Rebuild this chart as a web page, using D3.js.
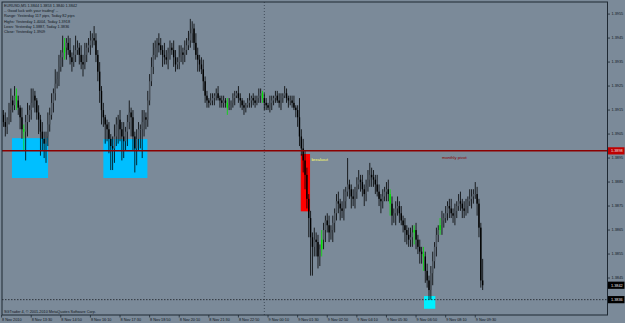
<!DOCTYPE html>
<html>
<head>
<meta charset="utf-8">
<script src="https://cdn.jsdelivr.net/npm/d3@7"></script>
<style>
  html, body { margin: 0; padding: 0; background: #7b8a99; }
  svg { display: block; }
  text { font-family: "Liberation Sans", Arial, sans-serif; }
</style>
</head>
<body>
<svg id="chart" width="625" height="323"></svg>
<script>
// EURUSD M5, 8 Nov 12:10 -> 9 Nov 09:50. Prices in pips above 1.3800
const BASE = 1.38
const closePips = [
  113,110,108,111,115,119,117,121,119,116,112,
  107,106,110,113,115,118,121,119,114,111,
  106,103,101,104,109,113,118,122,126,128,
  133,137,139,141,143,140,137,135,138,140,
  141,138,135,134,138,141,142,144,145,144,
  138,131,123,115,112,109,107,103,100,99,
  104,109,111,107,104,102,106,110,114,112,
  104,99,103,107,107,110,112,111,119,127,
  133,138,141,143,142,140,138,137,136,139,
  141,140,137,134,135,137,139,138,140,142,
  144,147,149,143,138,136,134,132,127,121,
  119,118,119,120,121,122,120,119,118,119,
  118,116,117,118,120,121,122,120,119,117,
  116,117,118,119,120,119,118,120,121,122,
  120,118,117,116,118,119,120,121,119,118,
  120,121,122,120,119,119,118,116,115,112,
  104,99,94,88,78,70,62,58,61,60,
  54,57,61,65,69,67,64,65,68,72,
  77,76,74,73,77,81,84,82,79,78,
  81,84,86,85,82,80,83,86,88,87,
  86,84,81,78,77,79,81,82,80,76,
  71,72,74,75,72,69,67,65,63,61,
  62,64,65,61,58,56,55,54,48,44,40,
  47,52,58,63,65,67,69,70,72,
  75,74,72,71,73,75,77,76,74,73,
  75,77,78,79,80,80,76,66,44,42
]
const upWick = [
  3,2,4,1,3,5,2,4,3,2,1,
  4,2,3,5,2,6,3,2,1,3,
  2,4,3,2,5,3,4,2,6,3,
  5,3,7,4,2,3,5,2,4,6,
  3,2,4,3,5,2,3,4,2,5,
  3,2,4,2,3,1,2,3,2,4,
  5,3,2,4,3,6,2,3,5,2,
  3,2,4,3,2,5,3,2,4,3,
  4,5,3,2,4,3,2,5,3,2,
  3,2,4,3,2,5,3,2,4,3,
  4,6,3,2,4,3,2,3,4,2,
  2,1,3,2,1,2,3,1,2,2,
  1,2,3,1,2,2,1,3,2,1,
  2,1,2,3,1,2,2,1,3,2,
  1,2,2,1,3,2,1,2,2,3,
  2,1,3,2,1,2,2,3,1,2,
  8,3,4,4,3,2,3,2,5,3,
  3,2,4,3,2,3,4,2,3,2,
  3,4,2,3,5,2,11,2,2,3,
  2,3,4,2,3,2,3,4,5,3,
  3,2,4,3,2,3,2,3,4,2,
  3,2,3,4,2,3,2,3,2,3,
  4,3,2,3,2,3,2,3,2,3,2,
  3,4,2,3,2,3,4,2,3,
  2,3,4,2,3,2,3,4,2,3,
  3,2,4,3,2,5,3,2,2,9
]
const downWick = [
  3,2,4,3,2,5,3,2,4,3,5,
  4,8,12,6,3,4,2,5,3,6,
  10,5,6,8,4,3,2,4,3,2,
  3,2,4,3,5,2,3,4,2,3,
  2,4,3,5,2,3,2,4,3,2,
  3,4,5,6,4,8,5,6,10,9,
  6,4,8,5,10,7,4,6,3,8,
  6,10,7,5,8,12,6,4,3,2,
  2,3,2,4,3,2,5,3,2,4,
  3,2,4,3,2,3,2,4,3,2,
  2,3,4,3,2,5,3,2,4,3,
  3,2,1,2,3,2,1,3,2,2,
  2,3,1,2,2,3,1,2,3,2,
  3,2,1,2,3,2,2,1,2,3,
  2,3,2,1,2,3,2,2,1,2,
  3,2,1,2,3,2,2,1,3,4,
  4,3,5,6,4,8,16,12,4,6,
  5,4,3,4,5,3,4,3,5,4,
  3,4,5,3,4,3,2,4,5,3,
  4,3,2,4,3,5,3,2,3,4,
  3,4,2,3,5,3,2,4,3,5,
  4,3,5,3,4,2,3,5,4,3,
  3,4,5,4,3,5,4,6,5,3,4,
  4,5,3,4,3,2,4,3,2,
  3,4,2,3,4,3,2,3,4,3,
  2,3,2,4,3,2,5,4,3,2
]
const greenBars = [8, 12, 34, 122, 141, 173, 210, 223, 228, 237]

const timeLabels = ["8 Nov 2010", "8 Nov 13:30", "8 Nov 14:50", "8 Nov 16:10", "8 Nov 17:30",
  "8 Nov 18:50", "8 Nov 20:10", "8 Nov 21:30", "8 Nov 22:50", "9 Nov 00:10", "9 Nov 01:30",
  "9 Nov 02:50", "9 Nov 04:10", "9 Nov 05:30", "9 Nov 06:50", "9 Nov 08:10", "9 Nov 09:30"]
const timeLabelBars = [0, 16, 32, 48, 64, 80, 96, 112, 128, 144, 160, 176, 192, 208, 224, 240, 256]
const priceTicks = [1.3955, 1.3945, 1.3935, 1.3925, 1.3915, 1.3905, 1.3895, 1.3885, 1.3875, 1.3865, 1.3855, 1.3845]

const headerLines = [
  "EURUSD,M5  1.3844 1.3853 1.3840 1.3842",
  "-- Good luck with your trading! --",
  "Range: Yesterday 117 pips, Today 82 pips",
  "Highs: Yesterday 1.4004, Today 1.3918",
  "Lows: Yesterday 1.3887, Today 1.3836",
  "Close: Yesterday 1.3909"
]

// chart objects, in bar index / price
const boxes = [
  { from: 5.6, to: 25.1, top: 1.39033, bottom: 1.38867, color: "#00bfff" },
  { from: 55, to: 78.8, top: 1.39029, bottom: 1.38867, color: "#00bfff" },
  { from: 161.7, to: 166.7, top: 1.38967, bottom: 1.38728, color: "#ff0000" },
  { from: 228.3, to: 234.4, top: 1.38375, bottom: 1.38322, color: "#00f0ff" }
]
const pivotPrice = 1.3898
const lowLinePrice = 1.3836
const separatorBar = 142
const priceTags = [
  { price: 1.3898, fill: "#c00000" },
  { price: 1.3842, fill: "#000000" },
  { price: 1.3836, fill: "#000000" }
]
const notes = [
  { text: "breakout", bar: 167.5, price: 1.38938, color: "#ffff66" },
  { text: "monthly pivot", bar: 238, price: 1.38945, color: "#8b0000" }
]

const FS = 3.8
const plot = { left: 2, right: 607.5, top: 2, bottom: 315 }
const svg = d3.select("#chart")

const x = d3.scaleLinear().domain([0, 327.2]).range([1.6, 607])
const y = d3.scaleLinear().domain([1.38296, 1.39592]).range([315, 4])

const bars = closePips.map((c, i) => {
  const close = BASE + c / 10000
  const open = BASE + (i === 0 ? 115 : closePips[i - 1]) / 10000
  const high = Math.max(open, close) + upWick[i] / 10000
  const low = Math.min(open, close) - downWick[i] / 10000
  return { i, open, high, low, close }
})

svg.append("rect").attr("width", 625).attr("height", 323).attr("fill", "#7b8a99")

const clip = svg.append("defs").append("clipPath").attr("id", "plotclip")
clip.append("rect")
  .attr("x", plot.left).attr("y", plot.top)
  .attr("width", plot.right - plot.left).attr("height", plot.bottom - plot.top)

const g = svg.append("g").attr("clip-path", "url(#plotclip)")

// rectangles behind the bars
g.selectAll("rect.box").data(boxes).join("rect")
  .attr("class", "box")
  .attr("x", d => x(d.from))
  .attr("width", d => x(d.to) - x(d.from))
  .attr("y", d => y(d.top))
  .attr("height", d => y(d.bottom) - y(d.top))
  .attr("fill", d => d.color)

// day separator
g.append("line")
  .attr("x1", x(separatorBar)).attr("x2", x(separatorBar))
  .attr("y1", plot.top).attr("y2", plot.bottom)
  .attr("stroke", "#2a3440").attr("stroke-width", 0.7)
  .attr("stroke-dasharray", "1,2")

// candles
const candle = g.selectAll("g.candle").data(bars).join("g").attr("class", "candle")
candle.append("line")
  .attr("x1", d => x(d.i)).attr("x2", d => x(d.i))
  .attr("y1", d => y(d.high)).attr("y2", d => y(d.low))
  .attr("stroke", d => greenBars.includes(d.i) ? "#00e000" : "#000")
  .attr("stroke-width", 0.8)
candle.append("rect")
  .attr("x", d => x(d.i) - 0.7)
  .attr("width", 1.4)
  .attr("y", d => y(Math.max(d.open, d.close)))
  .attr("height", d => Math.max(0.6, Math.abs(y(d.open) - y(d.close))))
  .attr("fill", d => greenBars.includes(d.i) ? "#00e000" : (d.close >= d.open ? "#4b535c" : "#000"))

// pivot line and low line
g.append("line")
  .attr("x1", plot.left).attr("x2", plot.right)
  .attr("y1", y(pivotPrice)).attr("y2", y(pivotPrice))
  .attr("stroke", "#8b0000").attr("stroke-width", 1.5)
g.append("line")
  .attr("x1", plot.left).attr("x2", plot.right)
  .attr("y1", y(lowLinePrice)).attr("y2", y(lowLinePrice))
  .attr("stroke", "#1a1f26").attr("stroke-width", 0.8)
  .attr("stroke-dasharray", "1.5,1.5")

// notes
g.selectAll("text.note").data(notes).join("text")
  .attr("class", "note")
  .attr("x", d => x(d.bar)).attr("y", d => y(d.price))
  .attr("font-size", 4.2)
  .attr("fill", d => d.color)
  .text(d => d.text)

// header text
svg.append("g").selectAll("text").data(headerLines).join("text")
  .attr("x", 4).attr("y", (d, k) => 6.6 + k * 5.35)
  .attr("font-size", FS)
  .attr("fill", "#10161c")
  .text(d => d)

svg.append("text")
  .attr("x", 4).attr("y", 312.5)
  .attr("font-size", FS).attr("fill", "#10161c")
  .text("SGTrader 4, \u00a9 2001-2010 MetaQuotes Software Corp.")

// frame
svg.append("rect")
  .attr("x", plot.left).attr("y", plot.top)
  .attr("width", plot.right - plot.left).attr("height", plot.bottom - plot.top)
  .attr("fill", "none").attr("stroke", "#1e2832").attr("stroke-width", 1)

// price axis
const yAxis = svg.append("g").attr("transform", `translate(${plot.right},0)`)
yAxis.selectAll("line").data(priceTicks).join("line")
  .attr("x1", 0).attr("x2", 2.5)
  .attr("y1", d => y(d)).attr("y2", d => y(d))
  .attr("stroke", "#1e2832").attr("stroke-width", 0.8)
yAxis.selectAll("text").data(priceTicks).join("text")
  .attr("x", 4).attr("y", d => y(d) + 1.4)
  .attr("font-size", FS).attr("fill", "#10161c")
  .text(d => d3.format(".4f")(d))

const tags = yAxis.selectAll("g.tag").data(priceTags).join("g").attr("class", "tag")
tags.append("rect")
  .attr("x", 0.5).attr("width", 16.5)
  .attr("y", d => y(d.price) - 3.6).attr("height", 7.2)
  .attr("fill", d => d.fill)
tags.append("text")
  .attr("x", 3.5).attr("y", d => y(d.price) + 1.4)
  .attr("font-size", FS).attr("fill", "#e8e8e8")
  .text(d => d3.format(".4f")(d.price))

// time axis
const xAxis = svg.append("g").attr("transform", `translate(0,${plot.bottom})`)
xAxis.selectAll("line").data(timeLabelBars).join("line")
  .attr("x1", d => x(d)).attr("x2", d => x(d))
  .attr("y1", 0).attr("y2", 2.5)
  .attr("stroke", "#1e2832").attr("stroke-width", 0.8)
xAxis.selectAll("text").data(timeLabels).join("text")
  .attr("x", (d, k) => x(timeLabelBars[k]) + 0.5).attr("y", 6.0)
  .attr("font-size", FS).attr("fill", "#10161c")
  .text(d => d)
</script>
</body>
</html>
